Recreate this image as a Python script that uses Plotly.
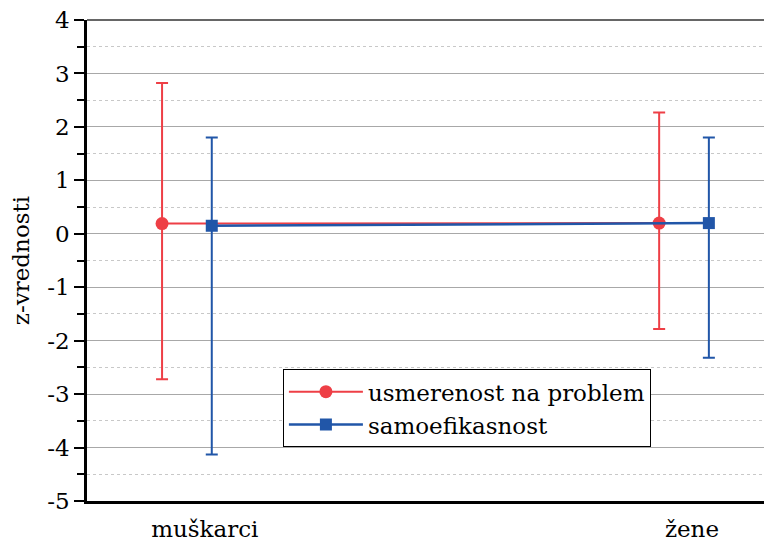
import plotly.graph_objects as go

categories = ["muškarci", "žene"]
series_names = ["usmerenost na problem", "samoefikasnost"]
red_mean = [0.19, 0.20]
red_upper = [2.82, 2.27]
red_lower = [-2.72, -1.78]
blue_mean = [0.15, 0.20]
blue_upper = [1.80, 1.80]
blue_lower = [-4.13, -2.32]
y_ticks = [4, 3, 2, 1, 0, -1, -2, -3, -4, -5]

RED = "#EE3F46"
BLUE = "#2156A8"
FONT = "DejaVu Serif"

cat_pos = [i + 1 for i in range(len(categories))]
red_x = [p - 0.05 for p in cat_pos]
blue_x = [p + 0.05 for p in cat_pos]

fig = go.Figure()
fig.add_trace(go.Scatter(
    x=red_x, y=red_mean, name=series_names[0], mode="lines+markers",
    line=dict(color=RED, width=2),
    marker=dict(symbol="circle", size=13, color=RED),
    error_y=dict(type="data", symmetric=False,
                 array=[u - m for u, m in zip(red_upper, red_mean)],
                 arrayminus=[m - l for m, l in zip(red_mean, red_lower)],
                 color=RED, thickness=2, width=6),
))
fig.add_trace(go.Scatter(
    x=blue_x, y=blue_mean, name=series_names[1], mode="lines+markers",
    line=dict(color=BLUE, width=2.5),
    marker=dict(symbol="square", size=12, color=BLUE),
    error_y=dict(type="data", symmetric=False,
                 array=[u - m for u, m in zip(blue_upper, blue_mean)],
                 arrayminus=[m - l for m, l in zip(blue_mean, blue_lower)],
                 color=BLUE, thickness=2, width=6),
))

fig.update_layout(
    width=764, height=539,
    margin=dict(l=79, r=0, t=12, b=46, autoexpand=False),
    paper_bgcolor="white", plot_bgcolor="white",
    font=dict(family=FONT, size=23, color="black"),
    showlegend=True,
    legend=dict(x=0.286, y=0.274, xanchor="left", yanchor="top",
                bgcolor="white", bordercolor="black", borderwidth=1,
                font=dict(family=FONT, size=23), itemwidth=74,
                tracegroupgap=0),
    xaxis=dict(range=[0.799, 2.177], tickmode="array",
               tickvals=[cat_pos[0] + 0.036, cat_pos[1] + 0.016],
               ticktext=categories, showgrid=False, zeroline=False,
               showline=True, linecolor="black", linewidth=2.5,
               ticks="", tickfont=dict(family=FONT, size=23), automargin=False,
               ticklabelstandoff=6),
    yaxis=dict(range=[-5, 4], tickmode="array", tickvals=y_ticks,
               ticktext=[str(v) for v in y_ticks],
               showgrid=True, gridcolor="#A8A8A8", gridwidth=1.3,
               zeroline=False, showline=True, linecolor="black", linewidth=2.5,
               ticks="outside", ticklen=10, tickwidth=2, tickcolor="black",
               tickfont=dict(family=FONT, size=23), automargin=False,
               ticklabeloverflow="allow",
               minor=dict(tickvals=[v + 0.5 for v in y_ticks[1:]], ticks="outside",
                          ticklen=7, tickwidth=2, tickcolor="black",
                          showgrid=True, gridcolor="#C8C8C8", griddash="dot", gridwidth=1),
               title=dict(text="z-vrednosti", font=dict(family=FONT, size=23), standoff=14)),
    shapes=[dict(type="line", xref="paper", yref="paper", x0=0, x1=1, y0=1, y1=1,
                 line=dict(color="#333333", width=1.5))],
)

fig.write_html("out.html")
